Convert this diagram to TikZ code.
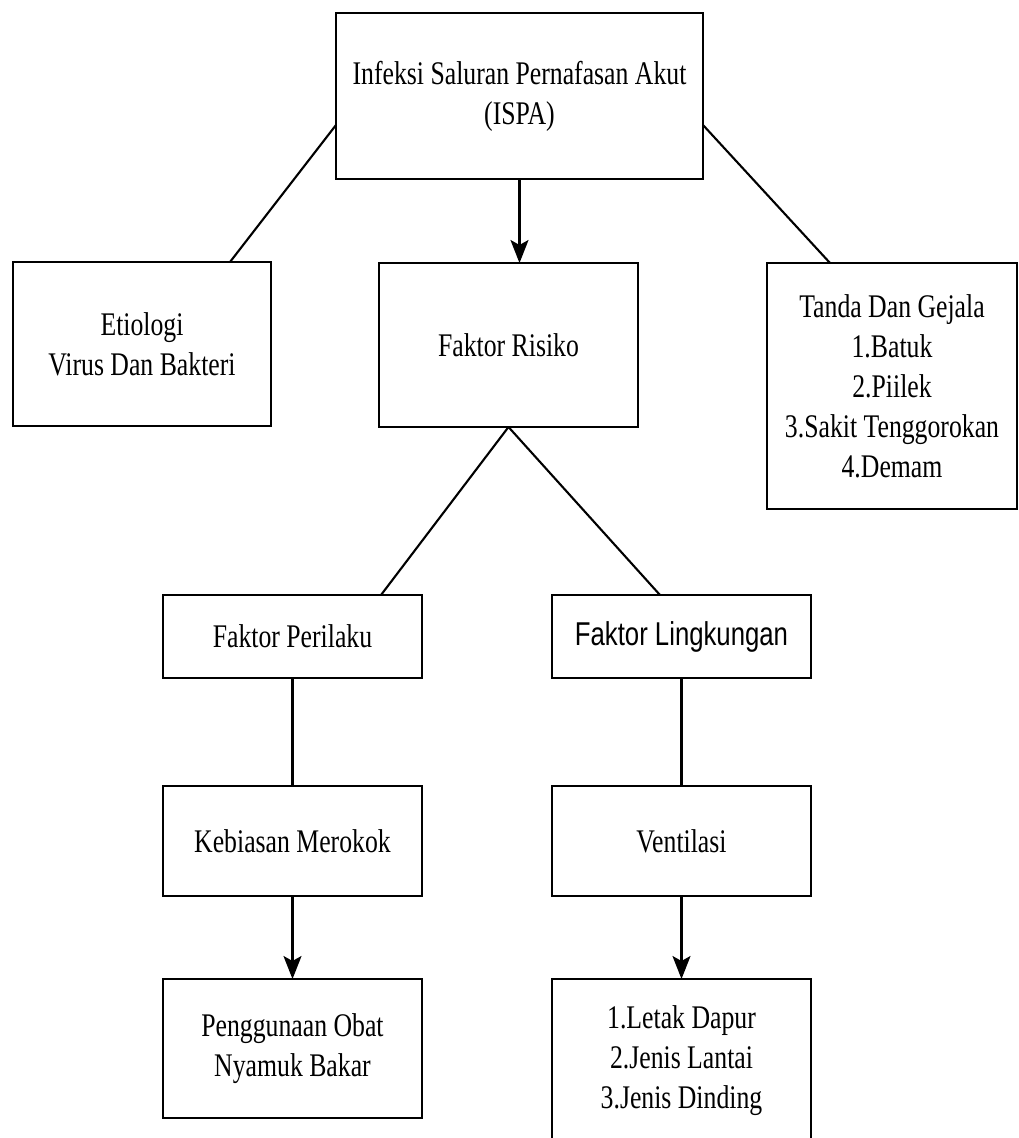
\documentclass[tikz,border=0pt]{standalone}
\usepackage{fontspec}
\setmainfont{Liberation Serif}[FakeStretch=0.78]
\newfontfamily\lsans{Liberation Sans}[FakeStretch=0.78]
\usetikzlibrary{arrows.meta}
\begin{document}
\begin{tikzpicture}[x=1pt,y=-1pt,
  bx/.style={draw, line width=2.5pt, inner sep=0pt, outer sep=0pt, align=center,
    font=\fontsize{33}{40}\selectfont},
  con/.style={line width=2.1pt},
  arr/.style={line width=2.1pt, -{Stealth[length=23pt,width=18pt,inset=5pt]}}]
\useasboundingbox (0,0) rectangle (1019,1138);
\fill[white] (0,0) rectangle (1019,1138);
\clip (0,0) rectangle (1019,1138);

\node[bx, minimum width=367, minimum height=166] (top) at (519.5,96)
  {Infeksi Saluran Pernafasan Akut\\(ISPA)};
\node[bx, minimum width=258, minimum height=164] (etio) at (142,344)
  {Etiologi\\Virus Dan Bakteri};
\node[bx, minimum width=259, minimum height=164] (risk) at (508.5,345)
  {Faktor Risiko};
\node[bx, minimum width=250, minimum height=246] (tanda) at (892,386)
  {Tanda Dan Gejala\\1.Batuk\\2.Piilek\\3.Sakit Tenggorokan\\4.Demam};
\node[bx, minimum width=259, minimum height=83] (peril) at (292.5,636.5)
  {Faktor Perilaku};
\node[bx, minimum width=259, minimum height=83, font=\lsans\fontsize{33}{40}\selectfont] (lingk) at (681.5,636.5)
  {Faktor Lingkungan};
\node[bx, minimum width=259, minimum height=110] (kebi) at (292.5,841)
  {Kebiasan Merokok};
\node[bx, minimum width=259, minimum height=110] (vent) at (681.5,841)
  {Ventilasi};
\node[bx, minimum width=259, minimum height=139] (peng) at (292.5,1048.5)
  {Penggunaan Obat\\Nyamuk Bakar};
\node[bx, minimum width=259, minimum height=164] (jenis) at (681.5,1061)
  {1.Letak Dapur\\2.Jenis Lantai\\3.Jenis Dinding};

\draw[con] ([yshift=54pt]top.south west) -- ([xshift=88pt]etio.north);
\draw[con] ([yshift=54pt]top.south east) -- ([xshift=-62pt]tanda.north);
\draw[arr] (top.south) -- (top.south |- risk.north);
\draw[con] (risk.south) -- ([xshift=88.5pt]peril.north);
\draw[con] (risk.south) -- ([xshift=-21.5pt]lingk.north);
\draw[con] (peril.south) -- (kebi.north);
\draw[arr] (kebi.south) -- (peng.north);
\draw[con] (lingk.south) -- (vent.north);
\draw[arr] (vent.south) -- (jenis.north);
\end{tikzpicture}
\end{document}
